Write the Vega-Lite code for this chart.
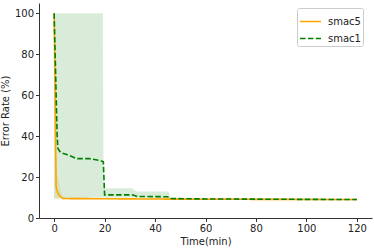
{
  "$schema": "https://vega.github.io/schema/vega-lite/v6.json",
  "width": 333,
  "height": 215,
  "autosize": {"type": "none"},
  "padding": {"left": 39, "top": 3, "right": 2, "bottom": 31},
  "background": "white",
  "config": {
    "view": {"stroke": null},
    "font": "DejaVu Sans",
    "axis": {
      "grid": false,
      "domainColor": "#333",
      "tickColor": "#333",
      "labelColor": "#222",
      "titleColor": "#222",
      "labelFont": "DejaVu Sans",
      "titleFont": "DejaVu Sans",
      "labelFontSize": 10,
      "titleFontSize": 10,
      "titleFontWeight": "normal",
      "tickSize": 3.5,
      "labelPadding": 2
    }
  },
  "datasets": {
    "lines": [
      {"series": "smac5", "x": 0, "y": 100},
      {"series": "smac5", "x": 0.8, "y": 15},
      {"series": "smac5", "x": 1.5, "y": 12},
      {"series": "smac5", "x": 2.5, "y": 10.5},
      {"series": "smac5", "x": 3.7, "y": 9.5},
      {"series": "smac5", "x": 20, "y": 9.4},
      {"series": "smac5", "x": 50, "y": 9.2},
      {"series": "smac5", "x": 120, "y": 9},
      {"series": "smac1", "x": 0, "y": 100},
      {"series": "smac1", "x": 1.2, "y": 40},
      {"series": "smac1", "x": 1.5, "y": 34},
      {"series": "smac1", "x": 2.5, "y": 32},
      {"series": "smac1", "x": 5, "y": 31},
      {"series": "smac1", "x": 7, "y": 30},
      {"series": "smac1", "x": 9, "y": 29},
      {"series": "smac1", "x": 14, "y": 29},
      {"series": "smac1", "x": 18.5, "y": 28},
      {"series": "smac1", "x": 19.5, "y": 27.5},
      {"series": "smac1", "x": 20, "y": 11.3},
      {"series": "smac1", "x": 31, "y": 11.3},
      {"series": "smac1", "x": 33, "y": 10.5},
      {"series": "smac1", "x": 45, "y": 10.4},
      {"series": "smac1", "x": 46, "y": 9.5},
      {"series": "smac1", "x": 60, "y": 9.3},
      {"series": "smac1", "x": 120, "y": 9}
    ],
    "bands": [
      {"series": "smac5", "x": 0, "lo": 9, "hi": 100},
      {"series": "smac5", "x": 0.5, "lo": 9, "hi": 60},
      {"series": "smac5", "x": 1, "lo": 9, "hi": 22},
      {"series": "smac5", "x": 2, "lo": 9, "hi": 18},
      {"series": "smac5", "x": 3, "lo": 9, "hi": 11},
      {"series": "smac5", "x": 4, "lo": 9, "hi": 10},
      {"series": "smac5", "x": 120, "lo": 8.6, "hi": 9.4},
      {"series": "smac1", "x": 0, "lo": 9.5, "hi": 100},
      {"series": "smac1", "x": 19.3, "lo": 10, "hi": 100},
      {"series": "smac1", "x": 19.6, "lo": 10, "hi": 14.5},
      {"series": "smac1", "x": 31, "lo": 10, "hi": 14.5},
      {"series": "smac1", "x": 32.5, "lo": 10, "hi": 13},
      {"series": "smac1", "x": 45.5, "lo": 9.8, "hi": 13},
      {"series": "smac1", "x": 46, "lo": 9, "hi": 9.7},
      {"series": "smac1", "x": 120, "lo": 8.7, "hi": 9.3}
    ]
  },
  "layer": [
    {
      "data": {"name": "bands"},
      "transform": [{"filter": "datum.series === 'smac5'"}],
      "mark": {"type": "area", "fill": "orange", "opacity": 0.15},
      "encoding": {
        "x": {"field": "x", "type": "quantitative"},
        "y": {"field": "lo", "type": "quantitative"},
        "y2": {"field": "hi"}
      }
    },
    {
      "data": {"name": "bands"},
      "transform": [{"filter": "datum.series === 'smac1'"}],
      "mark": {"type": "area", "fill": "green", "opacity": 0.15},
      "encoding": {
        "x": {"field": "x", "type": "quantitative"},
        "y": {"field": "lo", "type": "quantitative"},
        "y2": {"field": "hi"}
      }
    },
    {
      "data": {"name": "lines"},
      "mark": {"type": "line", "strokeWidth": 1.6},
      "encoding": {
        "x": {
          "field": "x", "type": "quantitative",
          "scale": {"domain": [-6, 126], "nice": false, "zero": false},
          "axis": {"values": [0, 20, 40, 60, 80, 100, 120], "title": "Time(min)", "titlePadding": 3}
        },
        "y": {
          "field": "y", "type": "quantitative",
          "scale": {"domain": [0, 105], "nice": false},
          "axis": {"values": [0, 20, 40, 60, 80, 100], "title": "Error Rate (%)", "titlePadding": 4}
        },
        "color": {
          "field": "series", "type": "nominal",
          "scale": {"domain": ["smac5", "smac1"], "range": ["orange", "green"]},
          "legend": {
            "title": null,
            "orient": "none",
            "legendX": 258,
            "legendY": 5,
            "symbolType": "stroke",
            "symbolSize": 440,
            "symbolStrokeWidth": 1.6,
            "labelFontSize": 10,
            "labelFont": "DejaVu Sans",
            "labelColor": "#222",
            "labelOffset": 6,
            "strokeColor": "#ccc",
            "cornerRadius": 2,
            "padding": 2,
            "rowPadding": -8,
            "fillColor": "white"
          }
        },
        "strokeDash": {
          "field": "series", "type": "nominal",
          "scale": {"domain": ["smac5", "smac1"], "range": [[1, 0], [5.5, 2.4]]},
          "legend": null
        }
      }
    }
  ]
}
